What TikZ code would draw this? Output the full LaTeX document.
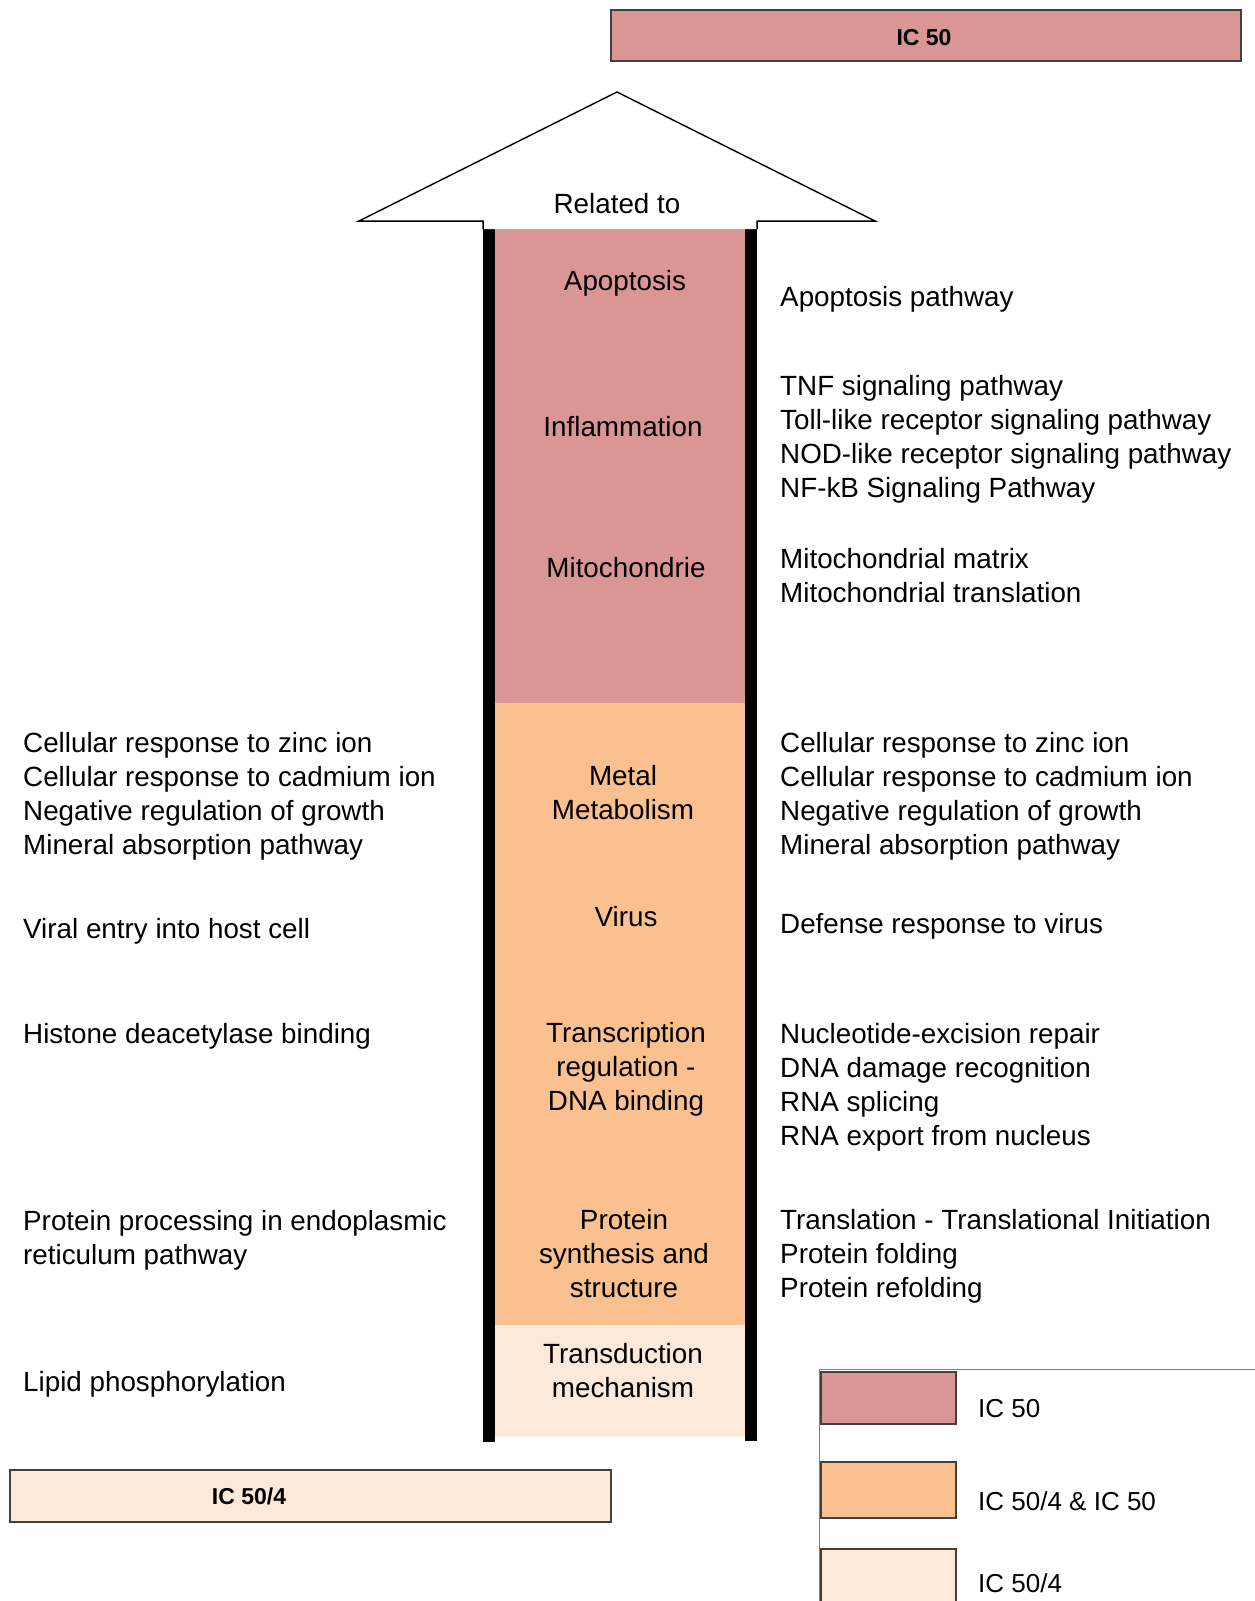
\documentclass[tikz,border=0pt]{standalone}
\usepackage{fontspec}
\setmainfont{Liberation Sans}
\definecolor{icpink}{RGB}{217,150,148}
\definecolor{icorange}{RGB}{250,192,143}
\definecolor{iclight}{RGB}{253,233,217}
\definecolor{edgegray}{RGB}{64,64,64}

\begin{document}
\begin{tikzpicture}[x=1pt, y=-1pt,
  sidetext/.style={inner sep=0pt, align=left, anchor=west, font=\fontsize{27.8}{34}\selectfont},
  theme/.style={inner sep=0pt, align=center, font=\fontsize{27.8}{34}\selectfont},
  bar/.style={draw=edgegray, line width=1.5pt},
  barlabel/.style={inner sep=0pt, font=\bfseries\fontsize{23}{27}\selectfont},
  swatch/.style={draw=edgegray, line width=1.5pt},
  legtext/.style={inner sep=0pt, anchor=west, font=\fontsize{26}{31}\selectfont},
  wall/.style={line width=12pt}]

\useasboundingbox (0,0) rectangle (1255,1601);

\draw[bar, fill=icpink] (611,10) rectangle (1241,61);
\node[barlabel] (ictop) at (924,38) {IC 50};
\draw[bar, fill=iclight] (10,1470) rectangle (611,1522);
\node[barlabel] (icbottom) at (249,1496) {IC 50/4};

\fill[icpink] (495,229) rectangle (745,703);
\fill[icorange] (495,703) rectangle (745,1325);
\fill[iclight] (495,1325) rectangle (745,1437);
\draw[wall] (489,229) -- (489,1442);
\draw[wall] (751,229) -- (751,1441);
\draw[line width=1.5pt, fill=white] (483,229) -- (483,221) -- (359,221) -- (617,92)
  -- (875,221) -- (757,221) -- (757,229);

\node[theme] (related) at (617,204) {Related to};
\node[theme] (apoptosis) at (625,283) {Apoptosis};
\node[theme] (inflam) at (623,427) {Inflammation};
\node[theme] (mito) at (626,568) {Mitochondrie};
\node[theme] (metal) at (623,793) {Metal\\Metabolism};
\node[theme] (virus) at (626,917) {Virus};
\node[theme] (transcr) at (626,1069) {Transcription\\regulation -\\DNA binding};
\node[theme] (protein) at (624,1254) {Protein\\synthesis and\\structure};
\node[theme] (transd) at (623,1371) {Transduction\\mechanism};

\node[sidetext] (r-apop) at (780,299) {Apoptosis pathway};
\node[sidetext] (r-inflam) at (780,439) {TNF signaling pathway\\Toll-like receptor signaling pathway\\NOD-like receptor signaling pathway\\NF-kB Signaling Pathway};
\node[sidetext] (r-mito) at (780,576) {Mitochondrial matrix\\Mitochondrial translation};
\node[sidetext] (r-metal) at (780,796) {Cellular response to zinc ion\\Cellular response to cadmium ion\\Negative regulation of growth\\Mineral absorption pathway};
\node[sidetext] (r-virus) at (780,926) {Defense response to virus};
\node[sidetext] (r-transcr) at (780,1087) {Nucleotide-excision repair\\DNA damage recognition\\RNA splicing\\RNA export from nucleus};
\node[sidetext] (r-protein) at (780,1256) {Translation - Translational Initiation\\Protein folding\\Protein refolding};

\node[sidetext] (l-metal) at (23,796) {Cellular response to zinc ion\\Cellular response to cadmium ion\\Negative regulation of growth\\Mineral absorption pathway};
\node[sidetext] (l-virus) at (23,931) {Viral entry into host cell};
\node[sidetext] (l-transcr) at (23,1036) {Histone deacetylase binding};
\node[sidetext] (l-protein) at (23,1240) {Protein processing in endoplasmic\\reticulum pathway};
\node[sidetext] (l-transd) at (23,1384) {Lipid phosphorylation};

\draw[gray, line width=1pt] (1260,1369) -- (819,1369) -- (819,1606);
\draw[swatch, fill=icpink] (821,1372) rectangle (956,1424);
\draw[swatch, fill=icorange] (821,1462) rectangle (956,1518);
\draw[swatch, fill=iclight] (821,1549) rectangle (956,1606);
\node[legtext] (leg50) at (978,1409) {IC 50};
\node[legtext] (legboth) at (978,1501) {IC 50/4 \& IC 50};
\node[legtext] (leg504) at (978,1583) {IC 50/4};
\end{tikzpicture}
\end{document}
